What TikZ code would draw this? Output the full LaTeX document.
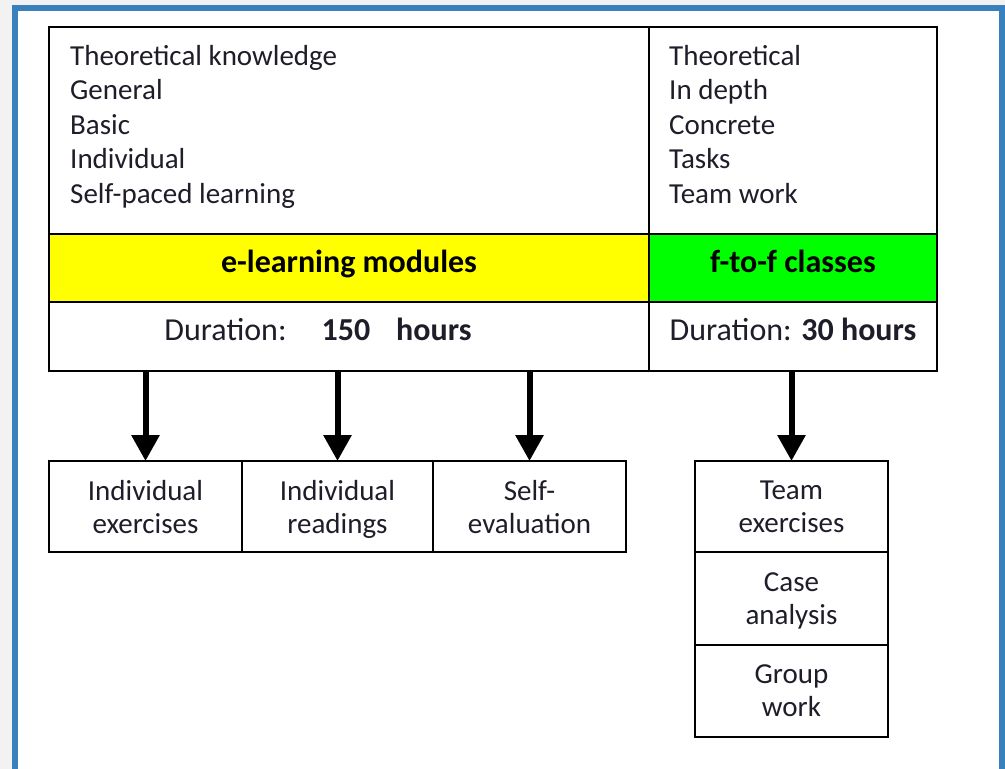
\documentclass[tikz,border=0pt]{standalone}
\usepackage{fontspec}
\setmainfont{Carlito}
\usetikzlibrary{positioning,arrows.meta}
\definecolor{frameblue}{RGB}{58,128,189}
\definecolor{pagegray}{RGB}{242,242,242}
\definecolor{inkdark}{RGB}{30,30,42}
\definecolor{modyellow}{RGB}{255,255,0}
\definecolor{classgreen}{RGB}{0,255,0}
\tikzset{
	cell base/.style={draw=black, line width=1.6pt, rectangle, outer sep=0pt, inner sep=0pt, text=inkdark, font={\fontsize{29}{33}\selectfont}},
	row text/.style={text height=21pt, text depth=13pt},
	head cell/.style={cell base, row text, minimum height=68pt, text=black, font={\fontsize{32}{36}\selectfont\bfseries}},
	dur cell/.style={cell base, row text, minimum height=69pt, font={\fontsize{32}{36}\selectfont}},
	list text/.style={anchor=north west, align=left, inner sep=0pt, text=inkdark, font={\fontsize{29}{34.5}\selectfont}},
	act box/.style={cell base, minimum width=193pt, minimum height=91pt, align=center, text depth=0pt},
	down arrow/.style={line width=6pt, -{Triangle[width=27pt,length=26pt]}},
}

\begin{document}
\begin{tikzpicture}[x=1pt,y=-1pt]
	% page frame
	\fill [pagegray] (0,0) rectangle (1005,769);
	\fill [frameblue] (12,5) rectangle (1005,769);
	\fill [white] (18,11) rectangle (999,769);
	\useasboundingbox (0,0) rectangle (1005,769);

	% top rows
	\node [cell base,minimum width=600pt,minimum height=207pt,anchor=north west] (elearntop) at (49,27) {};
	\node [cell base,minimum width=288pt,minimum height=207pt,right=0pt of elearntop] (ftoftop) {};
	\node [list text] (elearnlist) at ([xshift=21pt,yshift=-18pt]elearntop.north west) {Theoretical knowledge\\General\\Basic\\Individual\\Self-paced learning};
	\node [list text] (ftoflist) at ([xshift=20pt,yshift=-18pt]ftoftop.north west) {Theoretical\\In depth\\Concrete\\Tasks\\Team work};

	% coloured headers
	\node [head cell,minimum width=600pt,fill=modyellow,below=0pt of elearntop] (elearn) {e-learning modules};
	\node [head cell,minimum width=288pt,fill=classgreen,below=0pt of ftoftop] (ftof) {f-to-f classes};

	% durations
	\node [dur cell,minimum width=600pt,below=0pt of elearn] (elearndur) {Duration:\hspace{35pt}\textbf{150}\hspace{26pt}\textbf{hours}\hspace*{62pt}};
	\node [dur cell,minimum width=288pt,below=0pt of ftof] (ftofdur) {Duration: \textbf{30 hours}};

	% activities
	\node [act box,anchor=north west] (indivex) at (49,461) {Individual\\exercises};
	\node [act box,minimum width=191pt,right=0pt of indivex] (indivread) {Individual\\readings};
	\node [act box,right=0pt of indivread] (selfeval) {Self-\\evaluation};
	\node [act box,anchor=north west] (teamex) at (695,461) {Team\\exercises};
	\node [act box,minimum height=93pt,below=0pt of teamex] (caseana) {Case\\analysis};
	\node [act box,minimum height=92pt,below=0pt of caseana] (groupwork) {Group\\work};

	% arrows
	\draw [down arrow] (elearndur.south -| indivex.north) -- (indivex.north);
	\draw [down arrow] (elearndur.south -| indivread.north) -- (indivread.north);
	\draw [down arrow] (elearndur.south -| selfeval.north) -- (selfeval.north);
	\draw [down arrow] (ftofdur.south -| teamex.north) -- (teamex.north);
\end{tikzpicture}
\end{document}
